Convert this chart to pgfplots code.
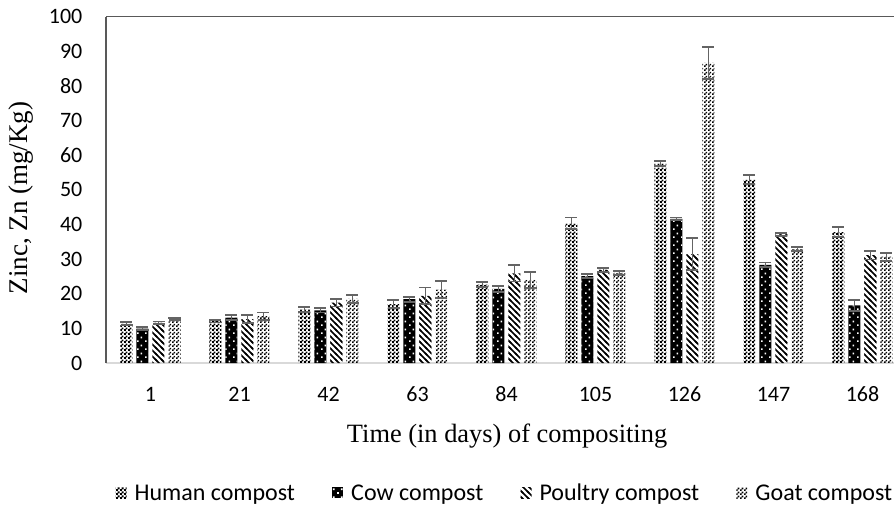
\documentclass[border=0pt]{standalone}
\usepackage{fontspec}
\setmainfont{Carlito}
\newfontfamily\seriffont{Liberation Serif}
\usepackage{pgfplots}
\pgfplotsset{compat=1.18}
\usetikzlibrary{patterns}

\definecolor{framegray}{RGB}{89,89,89}
\definecolor{basegray}{RGB}{217,217,217}
\definecolor{errgray}{RGB}{100,100,100}

% fill patterns for the four composts
\pgfdeclarepatternformonly{densecheck}{\pgfpointorigin}{\pgfpoint{2pt}{2pt}}{\pgfpoint{2pt}{2pt}}{%
  \pgfpathrectangle{\pgfpointorigin}{\pgfpoint{1.15pt}{1.15pt}}%
  \pgfpathrectangle{\pgfpoint{1pt}{1pt}}{\pgfpoint{1.15pt}{1.15pt}}%
  \pgfusepath{fill}}
\pgfdeclarepatternformonly{lightcheck}{\pgfpointorigin}{\pgfpoint{2pt}{2pt}}{\pgfpoint{2pt}{2pt}}{%
  \pgfpathrectangle{\pgfpointorigin}{\pgfpoint{1pt}{1pt}}%
  \pgfpathrectangle{\pgfpoint{1pt}{1pt}}{\pgfpoint{1pt}{1pt}}%
  \pgfusepath{fill}}
\pgfdeclarepatternformonly{whitedots}{\pgfpointorigin}{\pgfpoint{4pt}{4pt}}{\pgfpoint{4pt}{4pt}}{%
  \pgfpathrectangle{\pgfpoint{0.6pt}{0.6pt}}{\pgfpoint{0.9pt}{0.9pt}}%
  \pgfpathrectangle{\pgfpoint{2.6pt}{2.6pt}}{\pgfpoint{0.9pt}{0.9pt}}%
  \pgfusepath{fill}}
\pgfdeclarepatternformonly{backslash}{\pgfpoint{-1pt}{-1pt}}{\pgfpoint{4pt}{4pt}}{\pgfpoint{3pt}{3pt}}{%
  \pgfsetlinewidth{0.85pt}%
  \pgfpathmoveto{\pgfpoint{-0.5pt}{3.5pt}}%
  \pgfpathlineto{\pgfpoint{3.5pt}{-0.5pt}}%
  \pgfusepath{stroke}}

% Zn content (mg/Kg) with standard deviation, by day of composting
\pgfplotstableread{
x y err
0 11.4 0.4
1 12.1 0.4
2 15.4 0.7
3 17.0 1.2
4 22.6 0.7
5 40.3 1.7
6 57.6 0.7
7 52.9 1.25
8 37.8 1.35
}\human
\pgfplotstableread{
x y err
0 9.9 0.4
1 13.1 0.7
2 15.2 0.6
3 18.4 0.7
4 21.4 0.8
5 25.1 0.6
6 41.6 0.4
7 28.3 0.7
8 16.6 1.6
}\cow
\pgfplotstableread{
x y err
0 11.6 0.4
1 12.7 1.1
2 17.4 1.1
3 19.4 2.4
4 25.9 2.4
5 26.9 0.6
6 31.4 4.6
7 37.1 0.5
8 31.1 1.2
}\poultry
\pgfplotstableread{
x y err
0 12.7 0.4
1 13.5 1.05
2 18.5 1.1
3 21.2 2.5
4 24.0 2.3
5 26.0 0.6
6 86.6 4.7
7 32.9 0.6
8 30.7 1.15
}\goat

\begin{document}
\begin{tikzpicture}
\useasboundingbox (0,0) rectangle (447pt,255pt);
\clip (0,0) rectangle (447pt,255pt);
\begin{axis}[
  at={(53pt,73.5pt)}, anchor=south west,
  scale only axis, width=394pt, height=173.25pt,
  xmin=-0.5, xmax=8.354, ymin=0, ymax=100,
  enlargelimits=false,
  axis x line*=bottom, axis y line*=left,
  x axis line style={draw=basegray, line width=0.7pt, -},
  y axis line style={draw=framegray, line width=0.6pt, -},
  xtick={0,...,8},
  xticklabels={1,21,42,63,84,105,126,147,168},
  ytick={0,10,...,100},
  major tick length=0pt,
  extra y ticks={100},
  extra y tick labels={},
  extra y tick style={grid=major, major grid style={draw=framegray, line width=0.6pt}},
  /pgf/number format/assume math mode=true,
  yticklabel style={font=\fontsize{11}{13}\selectfont, xshift=-8.3pt},
  xticklabel style={font=\fontsize{11}{13}\selectfont, text height=7pt, text depth=0pt, yshift=-8.8pt},
  xlabel={Time (in days) of compositing},
  ylabel={Zinc, Zn (mg/Kg)},
  xlabel style={font=\seriffont\fontsize{13.2}{15}\selectfont, at={(axis description cs:0.509,-0.211)}, anchor=center},
  ylabel style={font=\seriffont\fontsize{13.5}{15}\selectfont, at={(axis description cs:-0.1079,0.476)}, anchor=center, rotate=0},
  ybar, bar width=6pt,
  every axis plot post/.append style={
    draw=none,
    legend image code/.code={%
      \fill[##1,draw=none] (0pt,-2.75pt) rectangle (5.5pt,2.75pt);
      \path (7.5pt,0pt);},
    error bars/y dir=both, error bars/y explicit,
    error bars/error mark=|,
    error bars/error bar style={draw=errgray, line width=0.9pt},
    error bars/error mark options={draw=errgray, line width=0.9pt, mark size=3pt},
  },
  legend columns=4,
  legend style={draw=none, fill=none, at={(axis description cs:0.004,-0.374)}, anchor=west,
    font=\fontsize{12}{14}\selectfont,
    /tikz/every even column/.append style={column sep=16.6pt}},
  legend cell align=left,
]
\addplot[bar shift=-12pt, pattern=densecheck, pattern color=black]
  table[x=x, y=y, y error=err] {\human};
\addplot[bar shift=-4pt, fill=black, postaction={pattern=whitedots, pattern color=white}]
  table[x=x, y=y, y error=err] {\cow};
\addplot[bar shift=4pt, pattern=backslash, pattern color=black]
  table[x=x, y=y, y error=err] {\poultry};
\addplot[bar shift=12pt, pattern=lightcheck, pattern color=black]
  table[x=x, y=y, y error=err] {\goat};
\legend{\strut Human compost, \strut Cow compost, \strut Poultry compost, \strut Goat compost}
\end{axis}
\end{tikzpicture}
\end{document}
